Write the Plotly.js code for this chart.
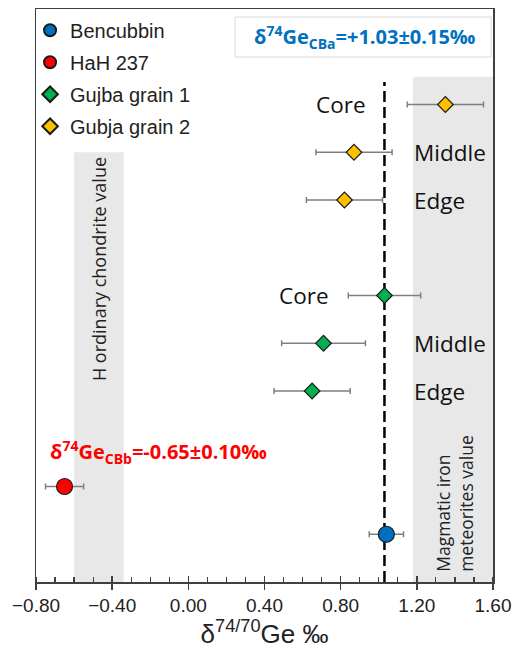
<!DOCTYPE html>
<html>
<head>
<meta charset="utf-8">
<script src="https://cdn.plot.ly/plotly-3.0.1.min.js"></script>
<style>html,body{margin:0;padding:0;background:#fff;}#chart{width:514px;height:650px;}</style>
</head>
<body>
<div id="chart"></div>
<script>
// ---- data ----
const rows = ["Bencubbin", "HaH 237", "gap A", "Gujba 1 Edge", "Gujba 1 Middle", "Gujba 1 Core",
              "gap B", "Gubja 2 Edge", "Gubja 2 Middle", "Gubja 2 Core"];
const seriesNames = ["Bencubbin", "HaH 237", "Gujba grain 1", "Gubja grain 2"];
const zoneLabels = ["Core", "Middle", "Edge"];

const bencubbinRows = ["Bencubbin"];
const bencubbinVal = [1.04];
const bencubbinErr = [0.09];

const hahRows = ["HaH 237"];
const hahVal = [-0.65];
const hahErr = [0.10];

const gujba1Rows = ["Gujba 1 Core", "Gujba 1 Middle", "Gujba 1 Edge"];
const gujba1Val = [1.03, 0.71, 0.65];
const gujba1Err = [0.19, 0.22, 0.20];

const gubja2Rows = ["Gubja 2 Core", "Gubja 2 Middle", "Gubja 2 Edge"];
const gubja2Val = [1.35, 0.87, 0.82];
const gubja2Err = [0.20, 0.20, 0.20];

const cbaMean = 1.03;          // dashed reference line
const hChondriteRange = [-0.60, -0.34];
const magmaticRange = [1.18, 1.60];
const xTicks = [-0.8, -0.4, 0.0, 0.4, 0.8, 1.2, 1.6];

// ---- styles ----
const calib = "Open Sans, Noto Sans, sans-serif";
const arial = "Liberation Sans, Arial, sans-serif";
const errStyle = (arr) => ({type: "data", array: arr, visible: true, color: "#7f7f7f", thickness: 1.5, width: 3});
const outline = {color: "#1a1a1a", width: 1.2};

const traces = [
  {x: bencubbinVal, y: bencubbinRows, name: seriesNames[0], legendgroup: "g1", type: "scatter", mode: "markers",
   marker: {symbol: "circle", size: 16, color: "#0070C0", line: outline}, error_x: errStyle(bencubbinErr)},
  {x: hahVal, y: hahRows, name: seriesNames[1], legendgroup: "g2", type: "scatter", mode: "markers",
   marker: {symbol: "circle", size: 16, color: "#FF0000", line: outline}, error_x: errStyle(hahErr)},
  {x: gujba1Val, y: gujba1Rows, name: seriesNames[2], legendgroup: "g3", type: "scatter", mode: "markers",
   marker: {symbol: "diamond", size: 12, color: "#00B050", line: outline}, error_x: errStyle(gujba1Err)},
  {x: gubja2Val, y: gubja2Rows, name: seriesNames[3], legendgroup: "g4", type: "scatter", mode: "markers",
   marker: {symbol: "diamond", size: 12, color: "#FFC000", line: outline}, error_x: errStyle(gubja2Err)},
  {x: [], y: [], xaxis: "x2", yaxis: "y", showlegend: false, hoverinfo: "skip", type: "scatter", mode: "markers"}
];

const idx = (r) => rows.indexOf(r);

const annotations = [];
// zone labels
const labelSpec = [
  [gubja2Rows[0], zoneLabels[0], 0.945, "right"],
  [gubja2Rows[1], zoneLabels[1], 1.175, "left"],
  [gubja2Rows[2], zoneLabels[2], 1.175, "left"],
  [gujba1Rows[0], zoneLabels[0], 0.750, "right"],
  [gujba1Rows[1], zoneLabels[1], 1.175, "left"],
  [gujba1Rows[2], zoneLabels[2], 1.175, "left"]
];
labelSpec.forEach(([row, txt, x, anchor]) => {
  annotations.push({x: x, y: idx(row), xref: "x", yref: "y", text: txt, showarrow: false,
    xanchor: anchor, yanchor: "middle", font: {family: calib, size: 22.5, color: "#111"}});
});
annotations.push({x: (hChondriteRange[0] + hChondriteRange[1]) / 2, y: 5.55, xref: "x", yref: "y",
  text: "H ordinary chondrite value", textangle: -90, showarrow: false,
  xanchor: "center", yanchor: "middle",
  font: {family: calib, size: 18, color: "#222"}});
annotations.push({x: 1.40, y: -0.82, xref: "x", yref: "y", align: "left",
  xanchor: "center", yanchor: "bottom",
  text: "Magmatic iron<br>meteorites value", textangle: -90, showarrow: false,
  font: {family: calib, size: 17.5, color: "#222"}});
annotations.push({x: 0.719, y: 0.951, xref: "paper", yref: "paper", xanchor: "center", yanchor: "middle",
  text: "<b>δ<sup>74</sup>Ge<sub>CBa</sub>=+1.03±0.15‰</b>", showarrow: false,
  font: {family: calib, size: 20, color: "#0070C0"}});
annotations.push({x: -0.737, y: 1.73, xref: "x", yref: "y", xanchor: "left", yanchor: "middle",
  text: "<b>δ<sup>74</sup>Ge<sub>CBb</sub>=-0.65±0.10‰</b>", showarrow: false,
  font: {family: calib, size: 20, color: "#FF0000"}});

const shapes = [
  {type: "rect", xref: "x", yref: "y", x0: hChondriteRange[0], x1: hChondriteRange[1], y0: -1, y1: 8,
   fillcolor: "#E8E8E8", line: {width: 0}, layer: "below"},
  {type: "rect", xref: "x", yref: "y", x0: magmaticRange[0], x1: magmaticRange[1], y0: -1, y1: 9.58,
   fillcolor: "#E8E8E8", line: {width: 0}, layer: "below"},
  {type: "line", xref: "x", yref: "y", x0: cbaMean, x1: cbaMean, y0: -1, y1: 9.47,
   line: {color: "#000", width: 2.5, dash: "11px,5px"}, layer: "below"},
  {type: "rect", xref: "paper", yref: "paper", x0: 0.4354, x1: 0.996, y0: 0.9162, y1: 0.986,
   fillcolor: "rgba(0,0,0,0)", line: {color: "#D9D9D9", width: 1}}
];

const layout = {
  width: 514, height: 650,
  margin: {l: 36, r: 21, t: 9, b: 68, pad: 0},
  paper_bgcolor: "#fff", plot_bgcolor: "#fff",
  font: {family: arial, color: "#222"},
  showlegend: true,
  legend: {x: -0.013, y: 0.997, xanchor: "left", yanchor: "top", bgcolor: "rgba(0,0,0,0)",
           font: {family: arial, size: 20, color: "#222"}, itemsizing: "constant", tracegroupgap: 3},
  xaxis: {range: [-0.8, 1.6], tickvals: xTicks, tickformat: ".2f", ticks: "outside", ticklen: 6,
          tickwidth: 1.5, tickcolor: "#404040", showline: true, linecolor: "#404040", linewidth: 1.5,
          mirror: true, showgrid: false, zeroline: false,
          tickfont: {family: arial, size: 19, color: "#222"},
          minor: {dtick: 0.1, tick0: -0.8, ticks: "inside", ticklen: 5, tickwidth: 1.2, tickcolor: "#404040", showgrid: false},
          title: {text: "δ<sup>74/70</sup>Ge ‰", font: {family: arial, size: 26, color: "#222"}, standoff: 6}},
  xaxis2: {range: [-0.8, 1.6], overlaying: "x", side: "bottom", tickvals: xTicks, ticks: "inside",
           ticklen: 6, tickwidth: 1.5, tickcolor: "#404040", showticklabels: false, showgrid: false,
           zeroline: false, showline: false},
  yaxis: {type: "category", categoryorder: "array", categoryarray: rows, range: [-1, 11],
          showticklabels: false, ticks: "", showgrid: false, zeroline: false, showline: true,
          linecolor: "#404040", linewidth: 1.5, mirror: true},
  annotations: annotations,
  shapes: shapes
};

Plotly.newPlot("chart", traces, layout, {displayModeBar: false, staticPlot: true});
</script>
</body>
</html>
